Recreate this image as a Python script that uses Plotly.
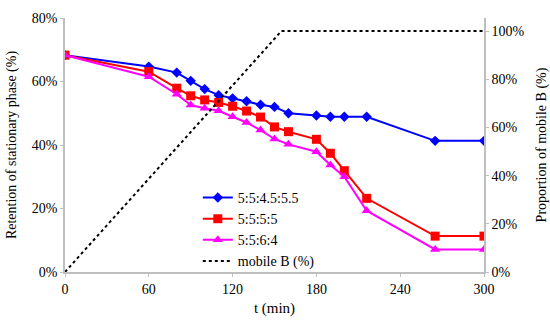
import plotly.graph_objects as go

t = [0, 60, 80, 90, 100, 110, 120, 130, 140, 150, 160, 180, 190, 200, 216, 265, 300]
s1 = [68.3, 64.7, 62.8, 60.2, 57.6, 55.7, 54.7, 53.8, 52.7, 52.0, 50.0, 49.3, 48.9, 48.9, 48.9, 41.3, 41.3]
s2 = [68.3, 63.1, 57.9, 55.5, 54.2, 53.4, 52.2, 50.7, 48.8, 45.7, 44.2, 41.8, 37.4, 31.9, 23.2, 11.3, 11.3]
s3 = [68.3, 61.5, 56.0, 52.6, 51.6, 50.8, 48.9, 47.1, 44.7, 41.9, 40.2, 37.9, 33.7, 30.0, 19.3, 7.1, 7.1]
tB = [0, 155, 300]
mobileB = [0, 100, 100]

names = ["5:5:4.5:5.5", "5:5:5:5", "5:5:6:4", "mobile B (%)"]
xticks = [0, 60, 120, 180, 240, 300]
yticks_left = [0, 20, 40, 60, 80]
yticks_right = [0, 20, 40, 60, 80, 100]

font = "Times New Roman"
fig = go.Figure()
fig.add_trace(go.Scatter(x=t, y=s1, name=names[0], mode="lines+markers",
                         line=dict(color="#0000ff", width=2),
                         marker=dict(symbol="diamond", size=8, color="#0000ff")))
fig.add_trace(go.Scatter(x=t, y=s2, name=names[1], mode="lines+markers",
                         line=dict(color="#ff0000", width=2),
                         marker=dict(symbol="square", size=9, color="#ff0000")))
fig.add_trace(go.Scatter(x=t, y=s3, name=names[2], mode="lines+markers",
                         line=dict(color="#ff00ff", width=2),
                         marker=dict(symbol="triangle-up", size=9, color="#ff00ff")))
fig.add_trace(go.Scatter(x=tB, y=mobileB, name=names[3], mode="lines", yaxis="y2",
                         line=dict(color="black", width=2, dash="dot")))

axcol = "#bfbfbf"
fig.update_layout(
    width=550, height=320,
    margin=dict(l=65, r=66, t=18, b=48),
    paper_bgcolor="white", plot_bgcolor="white",
    font=dict(family=font, size=14, color="black"),
    showlegend=True,
    legend=dict(x=0.317, y=0.355, xanchor="left", yanchor="top",
                bgcolor="rgba(0,0,0,0)", font=dict(size=14, family=font),
                tracegroupgap=0, itemwidth=30),
    xaxis=dict(range=[0, 300], tickvals=xticks, ticktext=[str(v) for v in xticks],
               showgrid=False, zeroline=False, showline=True, linecolor=axcol, linewidth=1.5,
               ticks="outside", ticklen=3, tickcolor=axcol, automargin=False,
               tickfont=dict(size=14, family=font),
               title=dict(text="t (min)", standoff=7, font=dict(size=15, family=font))),
    yaxis=dict(range=[0, 80], tickvals=yticks_left, ticktext=[f"{v}%" for v in yticks_left],
               showgrid=False, zeroline=False, showline=True, linecolor=axcol, linewidth=1.5,
               ticks="outside", ticklen=3, tickcolor=axcol, automargin=False,
               tickfont=dict(size=14, family=font),
               title=dict(text="Retention of stationary phase (%)", standoff=12,
                          font=dict(size=14, family=font))),
    yaxis2=dict(range=[0, 105.4], overlaying="y", side="right",
                tickvals=yticks_right, ticktext=[f"{v}%" for v in yticks_right],
                showgrid=False, zeroline=False, showline=True, linecolor=axcol, linewidth=1.5,
                ticks="outside", ticklen=3, tickcolor=axcol, automargin=False,
                tickfont=dict(size=14, family=font),
                title=dict(text="Proportion of mobile B (%)", font=dict(size=14, family=font))),
)
fig.write_html("out.html", config={"displayModeBar": False},
               post_script="document.body.style.margin='0px';")
